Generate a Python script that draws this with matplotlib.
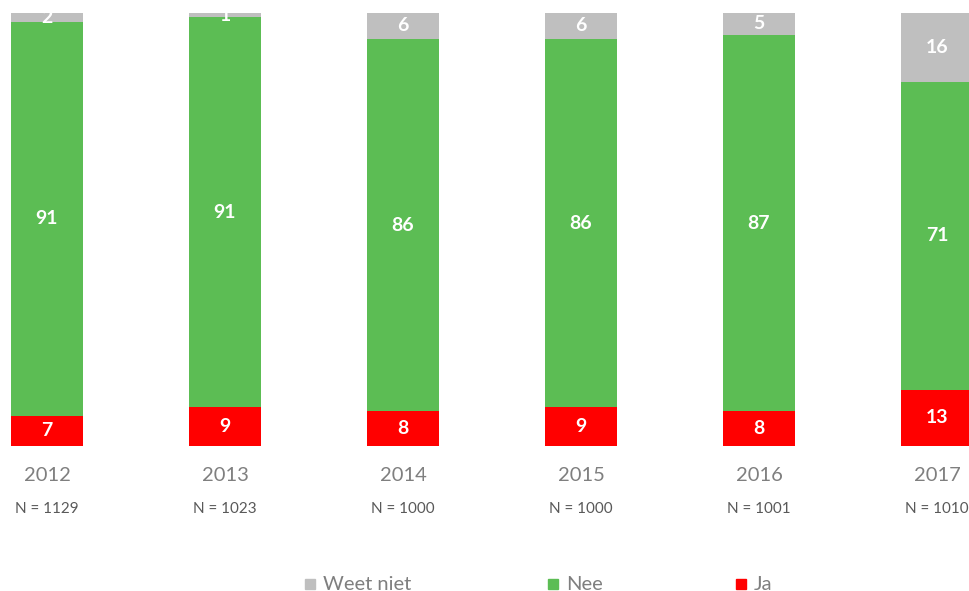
import matplotlib
matplotlib.use("Agg")
import matplotlib.pyplot as plt
from matplotlib.patches import Rectangle
import numpy as np

years = ["2012", "2013", "2014", "2015", "2016", "2017"]
n_resp = [1129, 1023, 1000, 1000, 1001, 1010]
ja = [7, 9, 8, 9, 8, 13]
nee = [91, 91, 86, 86, 87, 71]
weet_niet = [2, 1, 6, 6, 5, 16]

C_JA = "#ff0000"
C_NEE = "#5cbd54"
C_WN = "#bfbfbf"
C_TXT = "#7f7f7f"

plt.rcParams["font.family"] = ["Lato", "DejaVu Sans"]

fig = plt.figure(figsize=(9.7, 5.91), dpi=100)
ax = fig.add_axes([0, 1 - 446 / 591, 1, 433 / 591])

x = np.arange(len(years))
tot = np.array(ja) + np.array(nee) + np.array(weet_niet)
ja_p = np.array(ja) / tot * 100
nee_p = np.array(nee) / tot * 100
wn_p = np.array(weet_niet) / tot * 100

w = 0.40
ax.bar(x, ja_p, w, color=C_JA)
ax.bar(x, nee_p, w, bottom=ja_p, color=C_NEE)
ax.bar(x, wn_p, w, bottom=ja_p + nee_p, color=C_WN)

for i in range(len(years)):
    ax.text(x[i], ja_p[i] / 2, str(ja[i]), ha="center", va="center",
            color="white", fontsize=14, fontweight="bold")
    ax.text(x[i], ja_p[i] + nee_p[i] / 2, str(nee[i]), ha="center", va="center",
            color="white", fontsize=14, fontweight="bold")
    ax.text(x[i], ja_p[i] + nee_p[i] + wn_p[i] / 2, str(weet_niet[i]),
            ha="center", va="center", color="white", fontsize=14, fontweight="bold")
    ax.text(x[i], -6.9, years[i], ha="center", va="center", color=C_TXT, fontsize=14.5)
    ax.text(x[i], -14.5, f"N = {n_resp[i]}", ha="center", va="center",
            color="#595959", fontsize=11)

ax.set_xlim(-47 / 178, (970 - 47) / 178)
ax.set_ylim(0, 100)
ax.axis("off")

# legend, drawn by hand
legend = [("Weet niet", C_WN, 305), ("Nee", C_NEE, 548), ("Ja", C_JA, 736)]
ly = 1 - 584 / 591
for lab, col, px in legend:
    fig.patches.append(Rectangle((px / 970, ly - 5 / 591), 10 / 970, 10 / 591,
                                 transform=fig.transFigure, color=col))
    fig.text((px + 18) / 970, ly, lab, ha="left", va="center", color=C_TXT, fontsize=14.5)

fig.savefig("out.png", dpi=100)
